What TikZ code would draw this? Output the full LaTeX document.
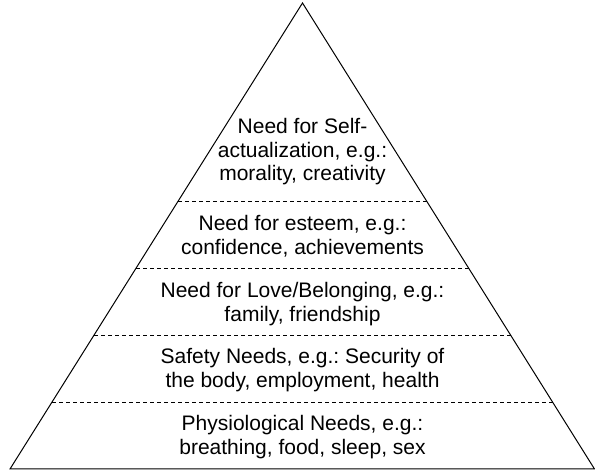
\documentclass[tikz,border=0pt]{standalone}
\usepackage{fontspec}
\setmainfont{Liberation Sans}
\usetikzlibrary{calc}
\frenchspacing

\begin{document}
\begin{tikzpicture}[
  x=1pt, y=1pt,
  font=\fontsize{21}{23.5}\selectfont,
  level/.style={align=center, inner sep=0pt},
  divider/.style={dash pattern=on 4pt off 3pt, line width=0.8pt},
]
\useasboundingbox (0,0) rectangle (595,471);
\coordinate (bl) at (10,2);
\coordinate (br) at (594.5,2);
\coordinate (apex) at (302.5,468);
\draw[line width=1pt, line join=miter] (bl) -- (br) -- (apex) -- cycle;

\foreach \k in {1,...,4}
  \draw[divider] ($(bl)!\k*0.1438!(apex)$) -- ($(br)!\k*0.1438!(apex)$);

\node[level] (physio) at (302.5,34) {Physiological Needs, e.g.:\\breathing, food, sleep, sex};
\node[level] (safety) at (302.5,101) {Safety Needs, e.g.: Security of\\the body, employment, health};
\node[level] (love) at (302.5,167) {Need for Love/Belonging, e.g.:\\family, friendship};
\node[level] (esteem) at (302.5,235) {Need for esteem, e.g.:\\confidence, achievements};
\node[level] (self) at (302.5,319) {Need for Self-\\actualization, e.g.:\\morality, creativity};
\end{tikzpicture}
\end{document}
